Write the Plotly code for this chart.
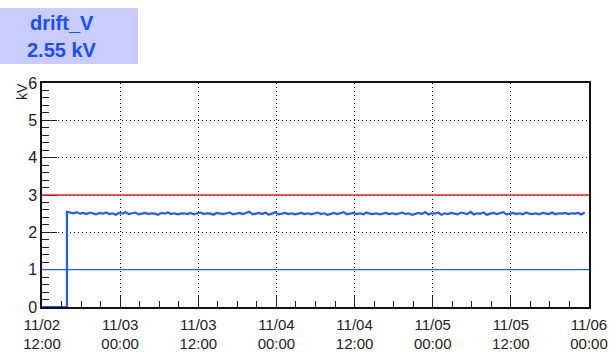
import pandas as pd
import plotly.graph_objects as go

# --- data -------------------------------------------------------------
channel_name = "drift_V"
current_reading = "2.55 kV"
unit = "kV"

ramp_start = "2022-11-02 15:50"        # supply switched on
sample_step = "30min"
off_times = ["2022-11-02 12:00", "2022-11-02 15:50"]
off_values = [0.0, 0.0]

# readings (kV) logged every 30 min after the supply came on
drift_values = [
    2.55, 2.53, 2.51, 2.54, 2.50, 2.52, 2.49, 2.53, 2.51, 2.48, 2.52, 2.50,
    2.53, 2.49, 2.51, 2.47, 2.52, 2.50, 2.54, 2.49, 2.51, 2.53, 2.48, 2.50,
    2.52, 2.49, 2.51, 2.50, 2.47, 2.52, 2.50, 2.53, 2.49, 2.51, 2.48, 2.50,
    2.51, 2.49, 2.52, 2.48, 2.50, 2.53, 2.49, 2.51, 2.50, 2.47, 2.52, 2.50,
    2.49, 2.51, 2.53, 2.48, 2.50, 2.52, 2.49, 2.51, 2.55, 2.48, 2.50, 2.52,
    2.49, 2.53, 2.47, 2.51, 2.54, 2.48, 2.50, 2.52, 2.49, 2.51, 2.48, 2.50,
    2.52, 2.49, 2.51, 2.48, 2.50, 2.53, 2.49, 2.51, 2.47, 2.50, 2.52, 2.49,
    2.51, 2.54, 2.48, 2.50, 2.52, 2.49, 2.51, 2.48, 2.53, 2.50, 2.49, 2.51,
    2.48, 2.50, 2.52, 2.49, 2.51, 2.48, 2.50, 2.53, 2.49, 2.51, 2.47, 2.50,
    2.52, 2.49, 2.54, 2.48, 2.51, 2.50, 2.53, 2.47, 2.51, 2.49, 2.52, 2.50,
    2.48, 2.53, 2.50, 2.49, 2.55, 2.48, 2.51, 2.50, 2.53, 2.47, 2.50, 2.52,
    2.49, 2.51, 2.54, 2.48, 2.50, 2.52, 2.49, 2.51, 2.48, 2.53, 2.50, 2.49,
    2.51, 2.48, 2.52, 2.50, 2.49, 2.53, 2.48, 2.51, 2.50, 2.52, 2.49, 2.51,
    2.50, 2.52, 2.48, 2.53,
]

upper_limit = 3.0
lower_limit = 1.0

x_range = ["2022-11-02 12:00", "2022-11-06 00:00"]
x_tick_times = [
    "2022-11-02 12:00", "2022-11-03 00:00", "2022-11-03 12:00",
    "2022-11-04 00:00", "2022-11-04 12:00", "2022-11-05 00:00",
    "2022-11-05 12:00", "2022-11-06 00:00",
]
x_tick_labels = [
    "11/02<br>12:00", "11/03<br>00:00", "11/03<br>12:00", "11/04<br>00:00",
    "11/04<br>12:00", "11/05<br>00:00", "11/05<br>12:00", "11/06<br>00:00",
]
y_range = [0, 6]

# --- figure -----------------------------------------------------------
BLUE = "#1f5cff"
RED = "#ff1a1a"
W, H = 616, 361
L, R, T, B = 42, 27, 83, 54
PW, PH = W - L - R, H - T - B


def px_x(px):
    return (px - L) / PW


def px_y(py):
    return (H - B - py) / PH


on_times = pd.date_range(ramp_start, periods=len(drift_values), freq=sample_step)
times = list(pd.to_datetime(off_times)) + list(on_times)
values = off_values + drift_values

fig = go.Figure()
fig.add_trace(go.Scatter(
    x=times, y=values, mode="lines",
    line=dict(color=BLUE, width=2.2),
    hoverinfo="skip", showlegend=False,
))

fig.add_hline(y=upper_limit, line=dict(color=RED, width=1.4), layer="above")
fig.add_hline(y=lower_limit, line=dict(color=BLUE, width=1.4), layer="above")

font = "Liberation Sans, Arial, Helvetica, sans-serif"
GRID_DASH = "1px,3px"

fig.update_layout(
    width=W, height=H,
    margin=dict(l=L, r=R, t=T, b=B, autoexpand=False),
    paper_bgcolor="white", plot_bgcolor="white",
    font=dict(family=font, color="#222222"),
    xaxis=dict(
        type="date", range=x_range, automargin=False,
        tickvals=x_tick_times, ticktext=x_tick_labels,
        tickfont=dict(size=15),
        ticks="inside", ticklen=11, tickwidth=1.3, tickcolor="#222",
        ticklabelstandoff=3,
        minor=dict(dtick=3 * 3600 * 1000, ticks="inside", ticklen=6,
                   tickwidth=1, tickcolor="#222", showgrid=False),
        showgrid=True, gridcolor="#111", griddash=GRID_DASH, gridwidth=1.2,
        showline=True, linecolor="#111", linewidth=1.5, mirror=True,
        zeroline=False, fixedrange=True,
    ),
    yaxis=dict(
        range=y_range, dtick=1, automargin=False,
        tickfont=dict(size=16),
        ticks="inside", ticklen=15, tickwidth=1.3, tickcolor="#222",
        minor=dict(dtick=0.2, ticks="inside", ticklen=7,
                   tickwidth=1, tickcolor="#222", showgrid=False),
        showgrid=True, gridcolor="#111", griddash=GRID_DASH, gridwidth=1.2,
        showline=True, linecolor="#111", linewidth=1.5, mirror=True,
        zeroline=False, fixedrange=True,
    ),
)

# channel box in the upper-left corner
fig.add_shape(
    type="rect", xref="paper", yref="paper",
    x0=px_x(0), x1=px_x(138), y0=px_y(64), y1=px_y(8),
    fillcolor="#c8ccff", line=dict(width=0), layer="above",
)
fig.add_annotation(
    xref="paper", yref="paper", x=px_x(62), y=px_y(23),
    text=f"<b>{channel_name}</b>", showarrow=False,
    font=dict(size=20, color="#1a4dff", family=font),
    xanchor="center", yanchor="middle",
)
fig.add_annotation(
    xref="paper", yref="paper", x=px_x(62), y=px_y(50),
    text=f"<b>{current_reading}</b>", showarrow=False,
    font=dict(size=20, color="#1a4dff", family=font),
    xanchor="center", yanchor="middle",
)
# y-axis unit
fig.add_annotation(
    xref="paper", yref="paper", x=px_x(22), y=px_y(92),
    text=unit, showarrow=False, textangle=-90,
    font=dict(size=14, color="#222222", family=font),
    xanchor="center", yanchor="middle",
)

fig.write_html("out.html")
